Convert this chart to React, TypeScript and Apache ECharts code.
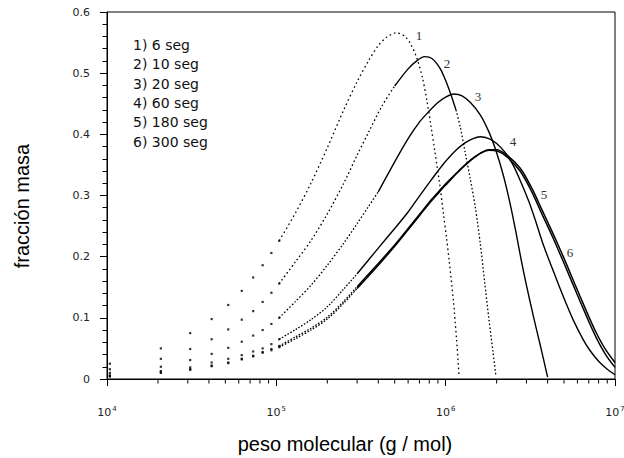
import { useEffect, useRef } from 'react';
import * as echarts from 'echarts';

type Pt = [number, number];

const LEGEND_LABELS = ['1) 6 seg', '2) 10 seg', '3) 20 seg', '4) 60 seg', '5) 180 seg', '6) 300 seg'];
const CURVE_TAGS = ['1', '2', '3', '4', '5', '6'];
const X_TITLE = 'peso molecular (g / mol)';
const Y_TITLE = 'fracción masa';
const MINOR_X_TICKS = [
  2e4, 3e4, 4e4, 5e4, 6e4, 7e4, 8e4, 9e4,
  2e5, 3e5, 4e5, 5e5, 6e5, 7e5, 8e5, 9e5,
  2e6, 3e6, 4e6, 5e6, 6e6, 7e6, 8e6, 9e6,
];

const curve1: Pt[] = [
  [1.04e4, 0.025], [2.08e4, 0.05], [3.1e4, 0.075], [4.15e4, 0.098], [5.2e4, 0.121], [6.25e4, 0.144], [7.3e4, 0.166], [8.3e4, 0.186], [9.35e4, 0.206], [1.04e5, 0.226],
  [1.3e5, 0.272], [1.6e5, 0.32], [2e5, 0.378], [2.5e5, 0.44], [3e5, 0.486], [3.5e5, 0.52], [4e5, 0.545], [4.5e5, 0.559], [5.1e5, 0.566],
  [5.7e5, 0.561], [6.2e5, 0.548], [6.75e5, 0.525], [7.3e5, 0.492], [7.75e5, 0.455], [8.2e5, 0.413], [8.65e5, 0.37], [9.27e5, 0.314],
  [9.7e5, 0.27], [1.01e6, 0.232], [1.05e6, 0.192], [1.11e6, 0.129], [1.16e6, 0.064], [1.2e6, 0.004],
];
const curve2: Pt[] = [
  [1.04e4, 0.016], [2.08e4, 0.033], [3.1e4, 0.049], [4.15e4, 0.065], [5.2e4, 0.081], [6.25e4, 0.097], [7.3e4, 0.111], [8.3e4, 0.126], [9.35e4, 0.141], [1.04e5, 0.156],
  [1.3e5, 0.192], [1.6e5, 0.226], [2e5, 0.27], [2.5e5, 0.32], [3e5, 0.366], [3.5e5, 0.403], [4.2e5, 0.446], [5e5, 0.479], [6e5, 0.507],
  [6.8e5, 0.521], [7.5e5, 0.527], [8.3e5, 0.524], [9.3e5, 0.507], [1.02e6, 0.482], [1.08e6, 0.463], [1.15e6, 0.44], [1.22e6, 0.412],
  [1.3e6, 0.372], [1.4e6, 0.326], [1.5e6, 0.279], [1.6e6, 0.222], [1.7e6, 0.158], [1.8e6, 0.098], [1.9e6, 0.046], [1.98e6, 0.005],
];
const curve3: Pt[] = [
  [1.04e4, 0.01], [2.08e4, 0.02], [3.1e4, 0.031], [4.15e4, 0.041], [5.2e4, 0.051], [6.25e4, 0.061], [7.3e4, 0.071], [8.3e4, 0.08], [9.35e4, 0.09], [1.04e5, 0.1],
  [1.3e5, 0.127], [1.6e5, 0.153], [2e5, 0.186], [2.5e5, 0.222], [3e5, 0.254], [3.5e5, 0.282], [4e5, 0.306], [5e5, 0.355], [6e5, 0.393],
  [7e5, 0.42], [8e5, 0.438], [9e5, 0.452], [1e6, 0.461], [1.12e6, 0.466], [1.25e6, 0.463], [1.4e6, 0.452], [1.6e6, 0.432], [1.8e6, 0.404],
  [2e6, 0.37], [2.2e6, 0.331], [2.4e6, 0.287], [2.6e6, 0.24], [2.8e6, 0.193], [3e6, 0.153], [3.3e6, 0.102], [3.6e6, 0.058], [3.8e6, 0.03],
  [4e6, 0.003],
];
const curve4: Pt[] = [
  [1.04e4, 0.006], [2.08e4, 0.013], [3.1e4, 0.019], [4.15e4, 0.027], [5.2e4, 0.033], [6.25e4, 0.039], [7.3e4, 0.045], [8.3e4, 0.05], [9.35e4, 0.057], [1.04e5, 0.065],
  [1.3e5, 0.081], [1.6e5, 0.097], [2e5, 0.118], [2.5e5, 0.147], [3e5, 0.172], [4e5, 0.214], [5e5, 0.246], [6e5, 0.273], [7e5, 0.299],
  [8e5, 0.321], [9e5, 0.34], [1e6, 0.356], [1.15e6, 0.374], [1.3e6, 0.386], [1.45e6, 0.393], [1.6e6, 0.396], [1.8e6, 0.393], [2e6, 0.385],
  [2.25e6, 0.37], [2.5e6, 0.35], [2.8e6, 0.32], [3.1e6, 0.29], [3.4e6, 0.258], [3.8e6, 0.217], [4.5e6, 0.164], [5e6, 0.132], [5.7e6, 0.095],
  [6.5e6, 0.064], [7.1e6, 0.047], [8e6, 0.029], [9e6, 0.016], [1e7, 0.007],
];
const curve5: Pt[] = [
  [1.04e4, 0.005], [2.08e4, 0.011], [3.1e4, 0.016], [4.15e4, 0.022], [5.2e4, 0.027], [6.25e4, 0.033], [7.3e4, 0.038], [8.3e4, 0.044], [9.35e4, 0.049], [1.04e5, 0.054],
  [1.3e5, 0.069], [1.6e5, 0.083], [2e5, 0.101], [2.5e5, 0.127], [3e5, 0.151], [4e5, 0.189], [5e5, 0.219], [6e5, 0.246], [7e5, 0.269],
  [8e5, 0.289], [9e5, 0.305], [1e6, 0.319], [1.2e6, 0.341], [1.4e6, 0.358], [1.6e6, 0.369], [1.8e6, 0.374], [2e6, 0.373], [2.3e6, 0.363],
  [2.75e6, 0.34], [3.2e6, 0.308], [3.7e6, 0.27], [4.3e6, 0.231], [4.95e6, 0.192], [5.5e6, 0.162], [6.2e6, 0.128], [7e6, 0.094],
  [7.8e6, 0.066], [8.8e6, 0.04], [1e7, 0.019],
];
const curve6: Pt[] = [
  [1.04e4, 0.004], [2.08e4, 0.01], [3.1e4, 0.015], [4.15e4, 0.021], [5.2e4, 0.026], [6.25e4, 0.032], [7.3e4, 0.037], [8.3e4, 0.043], [9.35e4, 0.047], [1.04e5, 0.052],
  [1.3e5, 0.066], [1.6e5, 0.08], [2e5, 0.098], [2.5e5, 0.124], [3e5, 0.148], [4e5, 0.186], [5e5, 0.217], [6e5, 0.244], [7e5, 0.267],
  [8e5, 0.287], [9e5, 0.303], [1e6, 0.317], [1.2e6, 0.34], [1.4e6, 0.357], [1.6e6, 0.369], [1.8e6, 0.375], [2e6, 0.375], [2.3e6, 0.366],
  [2.75e6, 0.345], [3.2e6, 0.314], [3.7e6, 0.277], [4.3e6, 0.238], [4.95e6, 0.2], [5.5e6, 0.17], [6.2e6, 0.136], [7e6, 0.102],
  [7.8e6, 0.074], [8.8e6, 0.048], [1e7, 0.027],
];

const CURVES = [curve1, curve2, curve3, curve4, curve5, curve6];

// line pieces per curve: x-range and dash pattern (null = solid)
type Seg = { from: number; to: number; dash: number[] | null };
const SEGMENTS: Seg[][] = [
  [{ from: 1.04e5, to: 1.2e6, dash: [1.6, 3] }],
  [
    { from: 1.04e5, to: 5e5, dash: [1.6, 2.6] },
    { from: 5e5, to: 1.15e6, dash: null },
    { from: 1.15e6, to: 2e6, dash: [1.6, 2.2] },
  ],
  [
    { from: 1.04e5, to: 4e5, dash: [1.6, 2] },
    { from: 4e5, to: 4e6, dash: null },
  ],
  [
    { from: 1.04e5, to: 3e5, dash: [1.6, 1.6] },
    { from: 3e5, to: 1e7, dash: null },
  ],
  [
    { from: 1.04e5, to: 3e5, dash: [1.6, 1.6] },
    { from: 3e5, to: 1e7, dash: null },
  ],
  [
    { from: 1.04e5, to: 3e5, dash: [1.6, 1.6] },
    { from: 3e5, to: 1e7, dash: null },
  ],
];
const DOT_LIMIT = 1.05e5;

const TAG_POS: [number, number][] = [
  [419, 35], [447, 63], [478, 96], [513, 141], [544, 194], [570, 252],
];

export default function App() {
  const ref = useRef<HTMLDivElement>(null);
  useEffect(() => {
    if (!ref.current) return;
    const chart = echarts.init(ref.current, undefined, { renderer: 'svg' });
    const series: any[] = [];
    CURVES.forEach((c, i) => {
      series.push({
        type: 'scatter',
        data: c.filter((p) => p[0] <= DOT_LIMIT),
        symbol: 'rect',
        symbolSize: 2.2,
        clip: false,
        itemStyle: { color: '#000' },
        silent: true,
      });
      SEGMENTS[i].forEach((s) => {
        series.push({
          type: 'line',
          data: c.filter((p) => p[0] >= s.from && p[0] <= s.to),
          showSymbol: false,
          smooth: 0.3,
          silent: true,
          lineStyle: {
            color: '#000',
            width: s.dash ? 1.3 : i >= 4 ? 1.5 : 1.4,
            type: s.dash ? s.dash : 'solid',
          },
        });
      });
    });
    series.push({
      type: 'custom',
      silent: true,
      clip: false,
      z: 10,
      data: MINOR_X_TICKS.map((v) => [v, 0]),
      renderItem: (_p: any, api: any) => {
        const pt = api.coord([api.value(0), 0]);
        return {
          type: 'line',
          shape: { x1: pt[0], y1: pt[1], x2: pt[0], y2: pt[1] + 4.5 },
          style: { stroke: '#000', lineWidth: 1 },
        };
      },
    });

    const graphics: any[] = [];
    LEGEND_LABELS.forEach((t, i) => {
      graphics.push({
        type: 'text',
        x: 133,
        y: 45 + i * 19.3,
        style: {
          text: t,
          fontSize: 14,
          fontFamily: 'DejaVu Sans',
          fill: '#111',
          align: 'left',
          verticalAlign: 'middle',
        },
      });
    });
    CURVE_TAGS.forEach((t, i) => {
      graphics.push({
        type: 'text',
        x: TAG_POS[i][0],
        y: TAG_POS[i][1],
        style: {
          text: t,
          fontSize: 13,
          fontFamily: 'Liberation Serif',
          fill: '#333',
          align: 'center',
          verticalAlign: 'middle',
        },
      });
    });
    graphics.push({
      type: 'text',
      x: 22,
      y: 206,
      rotation: Math.PI / 2,
      style: {
        text: Y_TITLE,
        fontSize: 20,
        fontFamily: 'Liberation Sans',
        fill: '#000',
        align: 'center',
        verticalAlign: 'middle',
      },
    });
    graphics.push({
      type: 'text',
      x: 345,
      y: 444,
      style: {
        text: X_TITLE,
        fontSize: 20,
        fontFamily: 'Liberation Sans',
        fill: '#000',
        align: 'center',
        verticalAlign: 'middle',
      },
    });

    chart.setOption({
      animation: false,
      grid: {
        left: 107,
        right: 9,
        top: 12,
        bottom: 79,
        containLabel: false,
        outerBoundsMode: 'none',
        show: true,
        borderColor: '#000',
        borderWidth: 1,
        backgroundColor: 'transparent',
      },
      xAxis: {
        type: 'log',
        logBase: 10,
        min: 1e4,
        max: 1e7,
        axisLine: { lineStyle: { color: '#000', width: 1 } },
        axisTick: { show: true, length: 7, inside: false, lineStyle: { color: '#000', width: 1 } },
        splitLine: { show: false },
        axisLabel: {
          margin: 26,
          color: '#222',
          fontFamily: 'DejaVu Sans',
          formatter: (v: number) => `{b|10}{s|${Math.round(Math.log10(v))}}`,
          rich: {
            b: { fontSize: 11, fontFamily: 'DejaVu Sans', color: '#222' },
            s: { fontSize: 7, fontFamily: 'DejaVu Sans', color: '#222', verticalAlign: 'top', padding: [0, 0, 8, 1] },
          },
        },
      },
      yAxis: {
        type: 'value',
        min: 0,
        max: 0.6,
        interval: 0.1,
        axisLine: { show: true, lineStyle: { color: '#000', width: 1 } },
        axisTick: { show: true, length: 7, inside: false, lineStyle: { color: '#000', width: 1 } },
        minorTick: { show: true, splitNumber: 5, length: 4.5, lineStyle: { color: '#000', width: 1 } },
        splitLine: { show: false },
        axisLabel: {
          margin: 17,
          color: '#222',
          fontSize: 11,
          fontFamily: 'DejaVu Sans',
          formatter: (v: number) => (v === 0 ? '0' : v.toFixed(1)),
        },
      },
      graphic: graphics,
      series,
    });
    return () => chart.dispose();
  }, []);
  return <div ref={ref} style={{ position: 'fixed', left: 0, top: 0, width: 624, height: 458, background: '#fff' }} />;
}
